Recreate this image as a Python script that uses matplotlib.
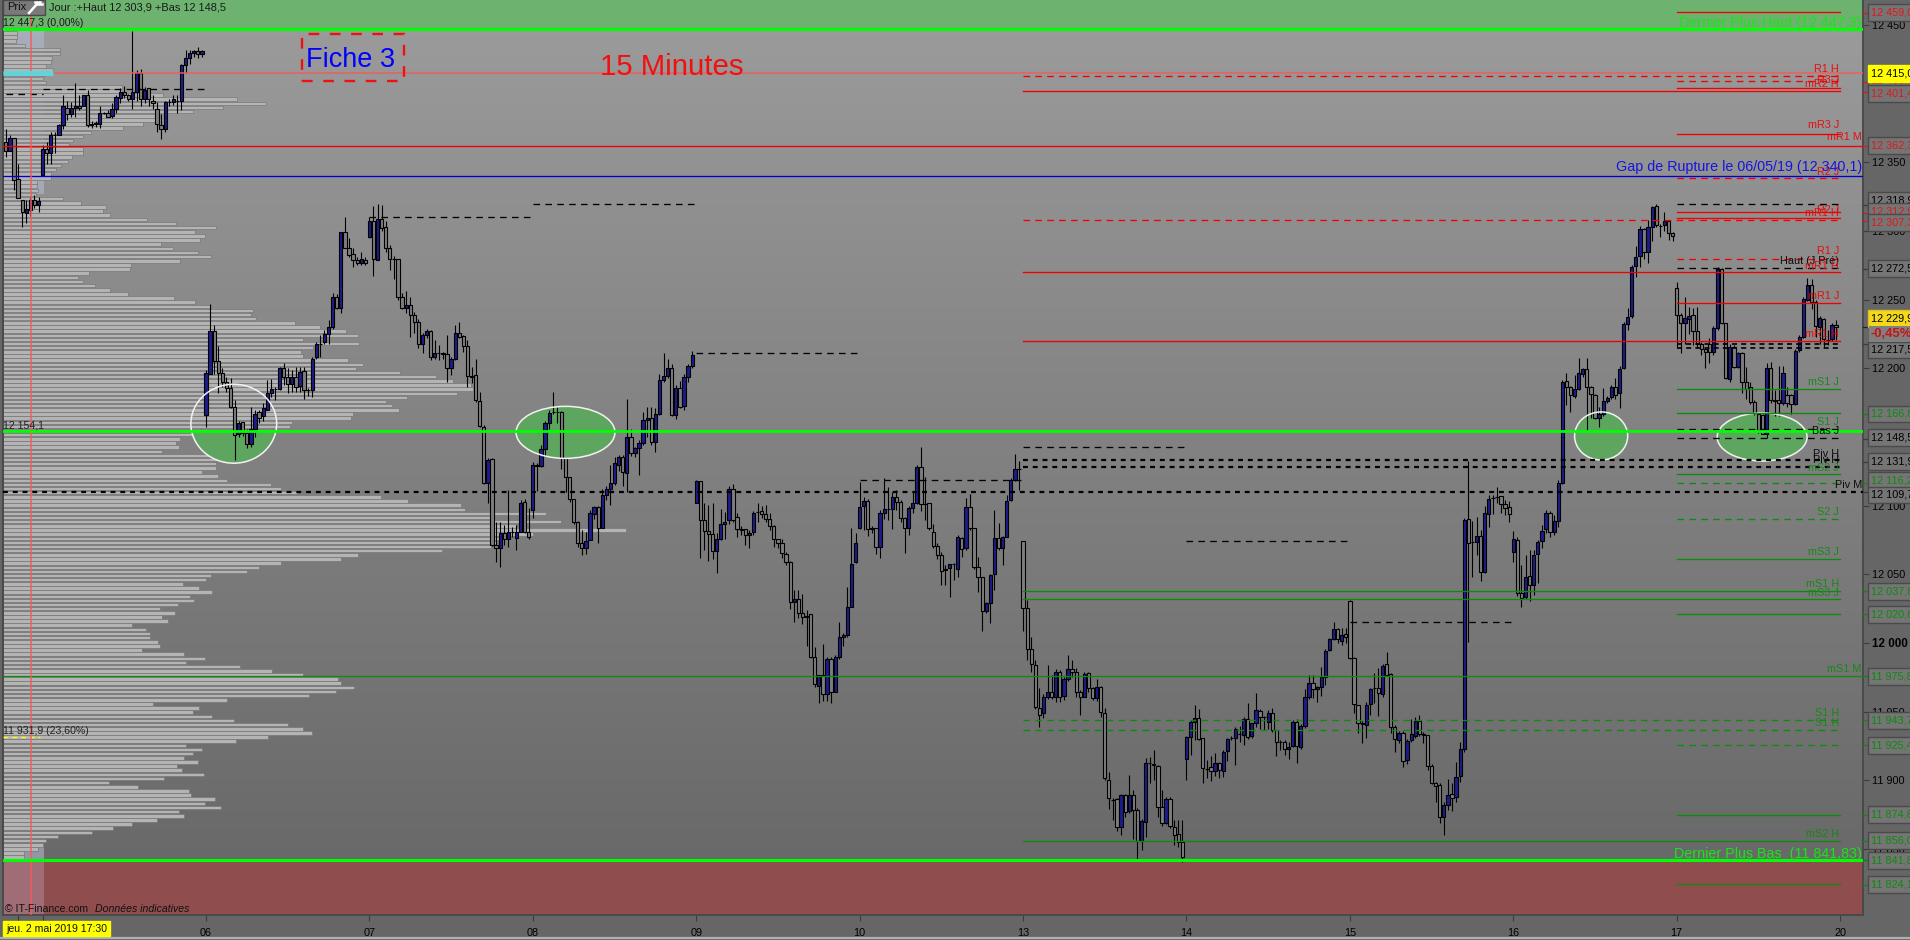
import numpy as np
import matplotlib
matplotlib.use("Agg")
import matplotlib.pyplot as plt
from matplotlib.patches import Ellipse, Rectangle
from matplotlib.lines import Line2D

plt.rcParams['font.family'] = ['Liberation Sans', 'DejaVu Sans']

opens = [
12365,12358,12368,12338,12323,12313,12315,12323,12319,12341,
12360,12357,12370,12370,12377,12390,12385,12390,12391,12391,
12399,12377,12379,12378,12386,12386,12384,12389,12397,12401,
12399,12396,12401,12415,12396,12404,12395,12389,12377,12374,
12394,12394,12395,12395,12421,12426,12430,12431,12429,
12166,12196,12227,12205.6,12197,12190,12186,12171.6,12152,12161,
12153,12144.6,12156,12168,12165,12170,12182,12185,12185,12200.5,
12193.4,12188.6,12193.4,12187,12198,12184,12184,12208,12218,12219.4,
12225,12230,12252,12243.7,12299,12288,12283,12279,12277,12279,
12295.4,12307.5,12279,12309,12302.7,12287.4,12280,12279.4,12251.7,12243.7,
12246,12239,12234,12218,12224,12227.4,12208.5,12211,12211,12210.4,
12200.5,12206.5,12225.5,12223.5,12216.3,12194.4,12195,12176.4,12157.5,12116.2,
12133.7,12071.3,12069.3,12080,12076,12081,12076.6,12081,12103,12081,
12096.8,12130,12129,12141,12160,12168,12168,12168,12134.4,12120.6,
12104.6,12088.3,12073,12069.4,12075,12094.3,12099,12084,12107.7,12112,
12116.2,12130,12135.6,12124,12149.7,12138.6,12141.7,12145.8,12162.4,12163.6,
12146.6,12167,12191.5,12194.6,12200.5,12166,12186,12172.6,12194,12202,
12101.7,12117.7,12089.5,12081.8,12079.3,12067,12075.4,12087,12089.5,12112.4,
12091.5,12082.7,12082.7,12079,12080.5,12095.6,12096.3,12094,12090.3,12085.2,
12075.4,12072.5,12064.8,12059,12029.6,12032.2,12021.5,12018.6,12020.8,11990,
11969,11976.6,11962.5,11988,11964.5,11990,12004.5,12006,12026.4,12058.7,
12083.5,12099.7,12103.2,12082.7,12083.5,12069.6,12094.9,12097.5,12097.5,12106,
12102.4,12091.2,12084,12098,12102,12127.9,12101.2,12101.7,12081,12071,
12064,12053,12054.3,12057.2,12053.6,12076.2,12068.9,12099.2,12083.5,12055,
12047.8,12023,12028.8,12050,12076.7,12069,12077.4,12104,12119,12126.7,
12074,12025.3,11995.4,11983.7,11953,11948.8,11960.4,11964.6,11960.4,11979.1,
11961.6,11973.5,11980.8,11978.9,11964.6,11961,11977.9,11967.5,11959.7,11968.2,
11948.8,11900.2,11886,11886.1,11865.7,11889,11877.6,11889,11878.4,11856,
11869.9,11912.4,11911.6,11910.7,11880.8,11869.2,11886.1,11866.2,11860.6,11855.3,
11915.8,11931.8,11942.2,11945.6,11930.5,11908,11909.4,11907,11912.4,11907,
11921.6,11930.6,11930.6,11933.7,11933.2,11944.4,11932.5,11941.5,11950.7,11945.9,
11942.7,11948.8,11936.6,11928.1,11928.1,11922.6,11925.2,11942.7,11924.5,11939.8,
11960.4,11970.6,11966.3,11967.7,11975,11994.9,12002.7,12010,12001.2,12006.3,
12030.8,11988.8,11954.6,11941.5,11940,11955.4,11967,11967,11962.6,11984.5,
11977.2,11938.6,11929.3,11934.7,11914.5,11929.1,11932,11943,11933.7,11932.8,
11910.4,11897.8,11896.3,11873,11881.8,11890,11887.6,11903.1,11922.5,12090,
12073.7,12073.7,12078.1,12051.4,12093.7,12105.8,12106.3,12106.8,12101,12099.2,
12066,12074.7,12036.1,12033.2,12048.7,12041.9,12064.5,12074,12082.7,12094.4,
12080.5,12088.6,12116.7,12191,12186.2,12180,12185.2,12195.9,12199.3,12186.2,
12180.6,12163.6,12166.5,12176,12178.9,12186.6,12181.8,12200,12232,12238.1,
12274.5,12281.8,12301.2,12284.5,12302.7,12318.2,12304,12304.6,12307,12298.8,
12258.3,12238.9,12232.8,12236.2,12238.6,12227.5,12217.7,12213.9,12218,12211.7,
12229.1,12272.1,12232.8,12192,12215.8,12201.2,12211,12190.3,12186.7,12175.7,
12167,12166,12152,12200,12177,12176.9,12174.5,12180.6,12180.6,12173.8,
12213.4,12223.1,12249.8,12260.7,12248.6,12230.4,12235.9,12221,12221.1,12231.6,
]

closes = [
12358,12368,12337,12324,12314,12316,12323,12319,12322,12360,
12357,12370,12370,12377,12391,12385,12390,12391,12390,12399,
12377,12378,12378,12386,12386,12383,12389,12398,12401,12399,
12396,12401,12415,12396,12403,12396,12393,12378,12374,12394,
12394,12396,12395,12421,12426,12430,12431,12429,12431,
12196.3,12227,12205.6,12197,12190.3,12186,12171.6,12151.7,12160,12153,
12144.6,12156,12167,12163.6,12171,12182,12185,12185,12200,12193.4,
12188.6,12194,12186.6,12197.5,12184,12184,12207,12217.7,12218,12224.7,
12230,12252,12243.7,12299,12288,12282.5,12279,12277,12279.4,12277,
12307.5,12280,12309,12302,12287.4,12280,12279.5,12251.7,12243.7,12246,
12239,12234,12218,12224,12227.4,12208.5,12211.4,12211,12210.4,12200,
12206.5,12225.5,12223,12216.5,12194.4,12194,12177,12158,12116.2,12133,
12071.3,12069.3,12080.3,12076,12081,12081,12081,12102,12081,12077,
12130,12129,12141,12160,12167.7,12168,12168,12134.4,12120.6,12104.6,
12088.3,12073,12069.4,12074.5,12094.8,12099,12084,12107.7,12112.3,12116.2,
12130.8,12135.6,12124.7,12149.7,12138.6,12141.7,12145.8,12162.4,12164,12146.6,
12167,12191.5,12194.6,12200.5,12166,12185.4,12172,12194,12202,12210,
12117.7,12089.5,12081.8,12079.3,12067,12076,12087,12088.3,12112.4,12089.5,
12082.7,12082,12079,12080.3,12094.9,12095.6,12094,12090.3,12085.2,12075.4,
12072.5,12065.2,12059,12029.6,12031.7,12021.5,12018.6,12020,11990,11969.8,
11976.6,11962.5,11988,11964.5,11990,12004.5,12005.7,12026.4,12057.5,12073,
12099.2,12103.6,12082.7,12084,12070,12094.9,12097.5,12097.5,12106.5,12102.4,
12090.7,12084,12098,12102,12128.4,12101.2,12101,12083.5,12071,12064,
12052.6,12054,12057.2,12057.2,12077.4,12068.2,12099.2,12083.5,12055,12047.8,
12023.5,12028.8,12049.5,12076.7,12069,12077.4,12103.6,12118.7,12126.4,12127,
12025.3,11995.4,11984.5,11953.1,11947.8,11960.4,11964.6,11960.4,11979.1,11961,
11973.5,11980.8,11978.9,11964.6,11961,11977.2,11967.5,11959.7,11968.2,11949.5,
11901.4,11886.9,11886,11866.2,11889.5,11877.2,11889.5,11878.4,11856,11870.6,
11912.4,11912.4,11911,11880.3,11868.7,11886.6,11866.7,11860.2,11855.3,11844.4,
11931.3,11942.2,11945.6,11930.3,11908.7,11908,11907,11912.4,11907.5,11920.9,
11929.8,11930.6,11937.6,11933.7,11944.4,11931.8,11941.5,11951.2,11945.9,11945.9,
11948.8,11936.6,11928.1,11928.1,11922.6,11924.5,11942.7,11925.2,11939.8,11960.4,
11970.6,11966.3,11968.2,11975,11994.4,12002.7,12010.5,12002.7,12005.8,12004.1,
11988.8,11955.6,11941.5,11941,11955.1,11966.3,11967,11963.3,11983.5,11976.7,
11938.6,11929.8,11934.7,11913.8,11928.9,11933.5,11943,11933.7,11933,11910.4,
11897.8,11895.9,11873,11881.8,11889,11887.1,11902.2,11923,12089.5,12072.5,
12073.7,12078.1,12051.4,12094.4,12105,12105.8,12106.3,12101,12098.5,12093.7,
12075.9,12036.1,12032.5,12047.8,12042.4,12064.3,12073.7,12081.8,12094.9,12080.5,
12089,12116.2,12190,12186.2,12180.3,12185.2,12196.4,12199.3,12186.2,12181,
12163.6,12166.5,12176,12178.2,12186.6,12180.6,12199.8,12232,12237.6,12274,
12281.3,12301.2,12284.5,12302.7,12317.3,12304.2,12304,12307,12298.8,12296.6,
12238.9,12232.8,12236.4,12238.1,12227.5,12218,12213.9,12212,12211.7,12229.1,
12272.1,12232.8,12192.7,12215.8,12201.2,12211,12190.3,12184.7,12175.7,12167.2,
12155,12152.2,12200,12176.9,12176.2,12174.5,12196.9,12174.5,12173.8,12212.9,
12223.1,12250.3,12260.7,12248.6,12230.9,12236.4,12221.1,12221,12231.6,12229.9,
]

highs = [
12374,12370,12368,12349,12323,12323,12325,12326,12325,12363,
12365,12372,12372,12378,12399,12395,12394,12408,12399,12399,
12403,12380,12380,12391,12387,12388,12393,12399,12404,12406,
12400,12446,12417,12418,12405,12404,12399,12394,12385,12395,
12396,12399,12399,12422,12432,12432,12432,12434,12432,
12199,12247,12231.6,12216,12200,12194,12193,12177,12162,12161,
12156,12172,12170,12170,12175,12191.5,12192,12186.6,12201,12203.6,
12200,12199,12201,12201,12201,12186,12208.5,12219.4,12224,12228,
12235,12254.6,12254,12299,12310,12294.6,12288,12281,12285,12281,
12310,12318,12320,12319,12307,12290,12282,12280,12255,12256.6,
12252,12241,12236,12226,12229,12228,12220.6,12217,12212,12224,
12208.5,12231.6,12233.5,12224,12221,12201,12207,12183,12159,12134.4,
12135,12088,12088,12086,12111.4,12084.6,12086,12104,12105,12098,
12132,12131,12144,12162,12170,12183,12172,12169,12135,12121,
12105,12089,12082,12081,12096.8,12100,12100,12112.5,12114,12130,
12135.6,12137,12137,12178,12156,12143,12148,12168,12172,12172,
12171,12196,12211,12207,12203,12188,12191,12196,12203,12213,
12119,12118,12101.7,12100.5,12101.7,12080,12097.3,12095.6,12114,12115.7,
12094.4,12085,12083,12082,12096,12101.7,12100,12100.5,12094.4,12086,
12076,12076,12066,12060,12038.5,12038.5,12036,12024,12021,11997.3,
11977,11999,11990,11990,11991,12015.5,12007,12041,12084,12080.3,
12117.5,12106.5,12105,12085,12084,12097,12119.9,12113.8,12110,12111.4,
12104,12092,12100,12110,12130,12142.5,12121,12102,12087,12073,
12066,12056.8,12057.2,12058,12079,12077,12105.3,12108.5,12084,12062.8,
12048,12030,12050,12097,12087.6,12078,12108,12120,12138,12132.7,
12074,12031,12004.6,11987.6,11967,11963,11984,11976.7,11980.8,11980,
11975,11991.3,11987.6,11982,11966,11979,11979,11968,11974,11969,
11952.4,11906.3,11887,11887,11890,11890,11903.9,11893,11880,11872,
11916,11916.7,11922,11911,11893,11888,11888,11871,11871,11871,
11932,11944,11954.8,11951.7,11931,11914.8,11917.7,11920,11913,11922,
11931,11932,11939,11939.5,11946.3,11956.5,11942,11963.8,11952,11947,
11951.2,11952.4,11937,11929,11929,11928,11944,11945,11941,11966.3,
11976.7,11976.7,11969,11982.8,11995.5,12004,12015,12011,12010.7,12010.7,
12031,11990,11955,11943,11957,11967,11978.4,11981.6,11985,11993.2,
11978,11940,11936,11936,11930,11944.7,11946.3,11947.6,11935,11933,
11912,11899,11898,11884,11900.7,11897.8,11913.6,11928,12090.7,12132.7,
12089,12091.5,12082.2,12099.7,12107.7,12107.7,12113.3,12107,12104,12103.4,
12081.5,12077,12056.8,12064,12068,12067.7,12075,12085.9,12096.8,12096,
12093.2,12118.7,12191.5,12196.8,12187,12195,12207.3,12200.5,12207.3,12187,
12181,12172,12185.4,12180,12188,12192.7,12202,12234,12243.7,12275,
12289,12304,12302,12308,12318.5,12319.7,12305,12313.6,12308,12299.5,
12263,12240,12252,12245,12243.7,12245,12219,12215,12222,12231,
12274,12273,12233,12218,12217,12212,12212,12201,12190,12177,
12168,12167,12204,12205,12184,12202,12202,12186.7,12181,12214,
12224,12252,12265.6,12264.8,12250,12238,12237,12228,12233,12235,
]

lows = [
12354,12358,12330,12324,12303,12306,12311,12317,12314,12341,
12349,12349,12357,12370,12374,12381,12383,12383,12388,12391,
12376,12375,12376,12375,12385,12383,12382,12386,12393,12397,
12395,12389,12395,12391,12393,12391,12389,12372,12367,12372,
12391,12392,12386,12388,12415,12422,12427,12426,12427,
12157.5,12196,12196,12182,12186.6,12183,12171,12133,12150,12151,
12142,12143,12150,12160,12162,12170,12179,12177,12184,12188,
12182,12183,12183,12183,12178,12180,12179.5,12207,12208,12218,
12218,12229,12243,12240,12288,12281,12273.6,12275,12275,12275,
12295,12267,12279,12300,12285,12272,12265,12250,12243,12240,
12223,12226,12215,12211,12222,12206,12207,12206,12207,12190,
12195,12206,12222,12212,12186.6,12189,12175.7,12157.5,12116,12101.6,
12071,12059,12055.5,12071.3,12070,12077,12067.6,12081,12080,12075.4,
12091.4,12111,12128,12136,12156,12167,12160,12127,12110,12103,
12087,12070,12064,12064.7,12075,12090,12073,12083.5,12104,12100.5,
12115,12125,12114,12110,12136,12135.6,12122,12144,12150,12144,
12139,12166,12190,12193,12165,12163,12171,12170,12190,12200,
12101.7,12061.6,12067.7,12060,12060.9,12050.7,12075,12075.4,12087,12088,
12077.4,12078.6,12071.3,12068.9,12079,12088.3,12091,12088,12082,12070,
12069,12062,12057,12025,12015.5,12017.9,12014,11997.8,11989,11968,
11956,11957.7,11957.7,11956.5,11964,11988,11997.8,12004.5,12026,12058,
12083,12082,12077.9,12080,12065,12061.6,12090,12089.5,12082.7,12097,
12088,12065.7,12078.6,12095,12101,12096,12089.5,12082,12069,12061,
12042,12042,12033.7,12045.8,12047.8,12062.8,12068,12082,12054,12037.3,
12008.9,12022,12014.7,12038.5,12068,12056.7,12077,12103.5,12118,12111.4,
12009,11987.6,11979,11952,11939,11945.5,11959,11959,11957.3,11957.3,
11958.5,11972,11975,11961,11947.6,11961,11964.6,11958.5,11958,11946.3,
11900,11878.9,11871,11863.3,11860,11873.5,11876,11857,11842.4,11849.2,
11858.9,11897.8,11900,11873,11867,11868,11865,11852.9,11851.7,11840.7,
11900.2,11918.4,11929.3,11929,11898.3,11901.4,11899.7,11903,11902,11902.6,
11914.3,11929,11911.1,11928,11925.7,11930,11930.6,11939,11937.1,11936.6,
11937.1,11935,11917.7,11922,11918.4,11915.5,11924,11912.8,11923,11938,
11959,11960,11957.3,11961.4,11969.4,11994,12002,12000,11998.6,12000,
11988,11948.8,11934.2,11927,11930.6,11947.6,11956,11946.8,11961,11976,
11934.2,11920.9,11927,11910,11911.9,11928,11931,11932,11927.4,11907.5,
11897,11884.4,11868.7,11860.2,11878.4,11877.9,11884.4,11899,11920.8,12000.9,
12048.3,12064,12045.3,12051,12084.7,12094,12101.7,12094.4,12093.2,12088.3,
12059.2,12034.2,12026.4,12031.7,12030.8,12034.9,12043.9,12068.9,12080.3,12077.4,
12078.6,12084.2,12115.7,12173.3,12168.4,12178.5,12184,12194,12155,12163.6,
12163,12157.5,12165.5,12175,12178,12178,12170.9,12199.5,12228,12236.6,
12266.3,12273.6,12280,12277,12293,12303,12296,12300,12293.5,12293,
12214.6,12211,12218,12225,12217,12214.6,12209.7,12200,12203.7,12210,
12228,12232,12192,12190,12200,12200,12182,12178,12174,12166,
12153,12152,12149,12175,12165,12165,12173,12172,12167,12173,
12212,12222,12249,12243,12223,12218,12215.8,12217,12220,12220.7,
]

# volume profile, top to bottom
profile_vol = [
14,14,13,22,57,57,49,48,43,50,42,40,43,119,119,160,234,263,220,190,157,153,140,120,88,80,70,66,80,80,
69,65,58,53,48,48,34,34,35,33,60,78,103,100,107,144,173,213,
192,202,197,158,170,195,208,177,128,127,86,75,80,92,107,125,171,192,208,250,248,253,292,
317,343,355,300,356,310,298,300,345,360,353,397,433,450,468,470,454,404,383,389,396,350,348,289,287,270,263,
177,173,176,159,210,235,213,213,199,215,224,268,278,294,
378,405,458,462,543,490,558,513,623,530,507,493,488,439,355,338,
278,256,244,208,203,180,196,209,187,191,175,157,172,159,165,129,143,147,147,155,157,139,181,202,183,237,269,300,
335,338,351,333,306,224,150,196,190,209,231,285,300,309,265,233,183,199,190,181,195,174,179,201,161,106,135,186,188,
212,202,218,176,181,154,129,110,89,55,43,40,35,21,21,
]

day_ticks = [49, 89, 129, 169, 209, 249, 289, 329, 369, 409, 449]
day_labels = ['06', '07', '08', '09', '10', '13', '14', '15', '16', '17', '20']
price_ticks = [12450, 12350, 12300, 12250, 12200, 12100, 12050, 12000, 11950, 11900, 11850]
price_labels = ['12 450', '12 350', '12 300', '12 250', '12 200', '12 100', '12 050', '12 000', '11 950', '11 900', '11 850']

RED, GREEN, BLACK, BLUE = '#f00000', '#0c8c0c', '#000000', '#0000e0'
WEEK, DAY, ALL = 249, 409, None
# price, colour, style ('-' solid, '--' dashed, '=' thick dashed), start candle
level_prices = [12459.6,12412.7,12409,12404,12402,12371,12362.3,12338.4,12319.5,12313.6,12309.3,12307.8,
                12280,12272.9,12270,12247.4,12219.7,12217.7,12215,12184.7,12167.2,12155.6,12149,
                12133,12128.4,12122.8,12116.3,12110,12090,12061,12037.6,12031.8,12020.9,11975.7,
                11943.6,11936.4,11925.4,11874.4,11855.5,11824.2]
level_colors = [RED,RED,RED,RED,RED,RED,RED,RED,BLACK,RED,RED,RED,
                RED,BLACK,RED,RED,RED,BLACK,BLACK,GREEN,GREEN,BLACK,BLACK,
                BLACK,BLACK,GREEN,GREEN,BLACK,GREEN,GREEN,GREEN,GREEN,GREEN,GREEN,
                GREEN,GREEN,GREEN,GREEN,GREEN,GREEN]
level_styles = ['-','--','--','-','-','-','-','--','--','-','-','--',
                '--','--','-','-','-','~','~','-','-','--','--',
                '=','=','-','--','=','--','-','-','-','-','-',
                '--','--','--','-','-','-']
level_starts = [DAY,WEEK,DAY,DAY,WEEK,DAY,ALL,DAY,DAY,DAY,DAY,WEEK,
                DAY,DAY,WEEK,DAY,WEEK,DAY,DAY,DAY,DAY,DAY,DAY,
                WEEK,WEEK,DAY,DAY,ALL,DAY,DAY,WEEK,WEEK,DAY,ALL,
                WEEK,WEEK,DAY,DAY,WEEK,DAY]

# short black dashed levels left by earlier sessions
old_prices = [12403.6, 12400, 12310, 12320, 12211, 12119, 12142.5, 12074, 12015]
old_starts = [9, 0, 89, 129, 169, 209, 249, 289, 329]
old_ends   = [49, 9, 129, 169, 209, 249, 289, 329, 369]

label_texts = ['R1 H','R3 J','mR2 H','mR3 J','R2 J','R2 J','mR1 H','R1 J','Haut (J Pré)','mR1 H','mR1 J','mR1 H',
               'mS1 J','S1 J','Bas J','Piv H','Piv H','mS2 J','S2 J','mS3 J','mS1 H','mS3 J','S1 H','S1 H','mS2 H']
label_prices = [12418,12410,12407,12377,12343,12315,12313,12285.5,12278,12274.6,12252.7,12225,
                12190,12161,12154.4,12137.6,12133,12127.5,12095.4,12066,12043,12036.4,11949,11941.7,11861]
label_colors = [RED,RED,RED,RED,RED,RED,RED,RED,BLACK,RED,RED,RED,
                GREEN,GREEN,BLACK,BLACK,BLACK,GREEN,GREEN,GREEN,GREEN,GREEN,GREEN,GREEN,GREEN]

monthly_texts = ['mR1 M', 'Piv M', 'mS1 M']
monthly_prices = [12368.5, 12115, 11981]
monthly_colors = [RED, BLACK, GREEN]

box_texts = ['12 459,0','12 408,9','12 401,4','12 362,3','12 318,9','12 312,9','12 307,3','12 272,5','12 217,5',
             '12 166,8','12 148,5','12 131,9','12 116,2','12 109,7','12 037,8','12 020,8','11 975,8',
             '11 943,7','11 925,4','11 874,8','11 856,0','11 841,8','11 824,1']
box_ticks = [12459.0,12408.9,12401.4,12362.3,12318.9,12312.9,12307.3,12272.5,12217.5,
              12166.8,12148.5,12131.9,12116.2,12109.7,12037.8,12020.8,11975.8,
              11943.7,11925.4,11874.8,11856.0,11841.8,11824.1]
# where each box sits: the chart nudges boxes apart when they would collide
box_prices = [12459.0,12410,12400.5,12362.3,12322,12314,12306,12272.5,12213.4,
              12166.8,12149.5,12131.9,12118.7,12107.8,12037.8,12020.8,11975.8,
              11943.7,11925.4,11874.8,11856.0,11841.8,11824.1]
box_colors = ['#e01818','#e01818','#e01818','#e01818','#000000','#e01818','#e01818','#000000','#000000',
              '#0c8c0c','#000000','#000000','#0c8c0c','#000000','#0c8c0c','#0c8c0c','#0c8c0c',
              '#0c8c0c','#0c8c0c','#0c8c0c','#0c8c0c','#0c8c0c','#0c8c0c']

last_high, last_low = 12447.3, 11841.83
zone_line = 12154.6
gap_level = 12340.1
marker_level = 12415.0
last_price = 12229.9
last_price_box = 12236
change_box = 12225
# ellipses: candle, price, width in candles, height in points
ell_x = [55.8, 137, 390.5, 429.9]
ell_y = [12159.7, 12153.4, 12150.8, 12150]
ell_w = [21, 24.2, 13, 22]
ell_h = [57.5, 37.9, 35, 35]

W, H = 1910, 940
fig = plt.figure(figsize=(W / 100, H / 100), dpi=100, facecolor='#666666')
rect = [3 / W, 1 - 915 / H, 1860 / W, 915 / H]
ylim = (11801.9, 12468.3)
xlim = (-0.69, 454.6)

# background layer
bg = fig.add_axes(rect, zorder=1)
bg.set_xlim(0, 1860)
bg.set_ylim(*ylim)
bg.axis('off')
grad = np.linspace(0, 1, 256).reshape(-1, 1)
bg.imshow(grad, extent=(0, 1860, ylim[0], ylim[1]), aspect='auto', origin='upper',
          cmap=matplotlib.colors.LinearSegmentedColormap.from_list('g', ['#9c9c9c', '#666666']), zorder=0)
bg.axhspan(last_high, ylim[1], color='#6db36f', lw=0, zorder=1)
bg.axhspan(ylim[0], last_low, color='#904d4d', lw=0, zorder=1)
bg.add_patch(Rectangle((0, 12327), 41, last_high - 12327, fc='#b4bcd8', alpha=0.55, lw=0, zorder=1.5))
bg.add_patch(Rectangle((0, last_low), 41, 11853 - last_low, fc='#b4bcd8', alpha=0.55, lw=0, zorder=1.5))
bg.add_patch(Rectangle((0, ylim[0]), 41, last_low - ylim[0], fc='#c0a8c0', alpha=0.35, lw=0, zorder=1.5))
levels = np.linspace(12444.3, 11844, len(profile_vol))
bg.barh(levels, profile_vol, height=2.55, left=0, color='#b4b4b4', edgecolor='#737373', linewidth=0.45, zorder=2)

# main layer
ax = fig.add_axes(rect, zorder=2)
ax.patch.set_alpha(0)
ax.set_xlim(*xlim)
ax.set_ylim(*ylim)

# ellipses: the first one is filled below the green line only
for k, (ex, ey, ew, eh) in enumerate(zip(ell_x, ell_y, ell_w, ell_h)):
    fill = Ellipse((ex, ey), ew, eh, fc='#5ea65f', ec='none', zorder=2)
    ax.add_patch(fill)
    if k == 0:
        clip = Rectangle((xlim[0], ylim[0]), xlim[1] - xlim[0], zone_line - ylim[0], transform=ax.transData)
        fill.set_clip_path(clip)
    ax.add_patch(Ellipse((ex, ey), ew, eh, fc='none', ec='#f2f2f2', lw=1.1, zorder=3.5))

# candles
xs = np.arange(len(opens))
o, c, hi, lo = map(np.array, (opens, closes, highs, lows))
up = c >= o
ax.vlines(xs, lo, hi, colors='k', lw=0.8, zorder=3)
ax.bar(xs, np.abs(c - o), bottom=np.minimum(o, c), width=0.8,
       color=np.where(up, '#1c1c8c', '#7e7e7e'), edgecolor='k', linewidth=0.8, zorder=3.2)

# levels
def draw_level(p, col, style, start, end=None):
    x0 = xlim[0] if start is None else start
    if start is None:
        x1 = xlim[1]
    else:
        x1 = 449 if end is None else end
    if style == '-':
        ax.plot([x0, x1], [p, p], color=col, lw=0.95, zorder=4)
    elif style == '--':
        ax.plot([x0, x1], [p, p], color=col, lw=0.95, dashes=(5, 4), zorder=4)
    elif style == '~':
        ax.plot([x0, x1], [p, p], color=col, lw=1.2, dashes=(3, 2.5), zorder=4)
    else:
        ax.plot([x0, x1], [p, p], color=col, lw=1.6, dashes=(2.2, 2.2), zorder=4)

for p, col, st, s in zip(level_prices, level_colors, level_styles, level_starts):
    draw_level(p, col, st, s)
for p, s, e in zip(old_prices, old_starts, old_ends):
    draw_level(p, BLACK, '--', s, e)
draw_level(gap_level, '#0000d0', '-', None)
ax.plot(xlim, [last_high] * 2, color='#00ff00', lw=2.2, zorder=4.2)
ax.plot(xlim, [last_low] * 2, color='#00ff00', lw=2.2, zorder=4.2)
ax.plot(xlim, [zone_line] * 2, color='#00ff00', lw=2.0, zorder=4.2)
ax.plot(xlim, [marker_level] * 2, color='#f25c5c', lw=1.3, alpha=0.8, zorder=4.1)
ax.axvline(6.2, color='#f25c5c', lw=1.3, alpha=0.8, zorder=4.1)
ax.plot([xlim[0], 11.5], [marker_level] * 2, color='#5fd5da', lw=3.6, solid_capstyle='butt', zorder=4.15)
ax.plot([xlim[0], 8.3], [11931.9] * 2, color='#ffff00', lw=0.9, dashes=(4, 3), zorder=4)

# labels near levels
lab_fs = 7.8
for t, p, col in zip(label_texts, label_prices, label_colors):
    ax.text(448.7, p, t, color=col, fontsize=lab_fs, ha='right', va='center', alpha=0.9, zorder=5)
for t, p, col in zip(monthly_texts, monthly_prices, monthly_colors):
    ax.text(454.3, p, t, color=col, fontsize=lab_fs, ha='right', va='center', alpha=0.9, zorder=5)
ax.text(454.3, 12451.5, 'Dernier Plus Haut (12 447,3)', color='#16e616', fontsize=10.3, ha='right', va='center', zorder=5)
ax.text(454.3, 11846, 'Dernier Plus Bas  (11 841,83)', color='#16e616', fontsize=10.3, ha='right', va='center', zorder=5)
ax.text(454.3, 12346.5, 'Gap de Rupture le 06/05/19 (12 340,1)', color='#1414e0', fontsize=10.3, ha='right', va='center', zorder=5)

# axes
ax.yaxis.tick_right()
ax.set_yticks(price_ticks, price_labels, fontsize=7.8, color='k')
for t, p in zip(ax.get_yticklabels(), price_ticks):
    if p == 12000:
        t.set_fontweight('bold')
        t.set_fontsize(8.4)
ax.tick_params(axis='y', length=4, width=0.8, color='#3c3c3c', pad=2.5)
minor_x = [3, 9]
ax.set_xticks(day_ticks + minor_x, day_labels + ['', ''], fontsize=7.8, color='k')
ax.tick_params(axis='x', length=4, width=0.8, color='#3c3c3c', pad=5)
for s in ('top',):
    ax.spines[s].set_visible(False)
for s in ('left', 'right', 'bottom'):
    ax.spines[s].set_color('#4a4a4a')
    ax.spines[s].set_linewidth(1.4)

# price boxes on the right
tr = ax.get_yaxis_transform()
def box(text, p, fc, tc, weight='normal', fs=7.8, ec='#4a4a4a'):
    ax.text(1.0043, p, text, color=tc, fontsize=fs, fontweight=weight, ha='left', va='center', transform=tr,
            clip_on=False, zorder=6,
            bbox=dict(boxstyle='square,pad=0.32', fc=fc, ec=ec, lw=1.0))
for t, p, tick, col in zip(box_texts, box_prices, box_ticks, box_colors):
    box(t, p, '#757575', col)
    ax.plot([1.0, 1.0043], [tick, tick], color=col if col != '#000000' else '#3c3c3c', lw=0.9, transform=tr,
            clip_on=False, zorder=5)
box('12 415,0', marker_level, '#ffff00', '#000000', ec='#ffff00')
box('12 229,9', last_price_box, '#f4d81c', '#000000', ec='#d8c020')
ax.plot([1.0, 1.0043], [last_price] * 2, color='#222222', lw=0.9, transform=tr, clip_on=False, zorder=5)
ax.text(1.0043, change_box, '-0,45%', color='#c81414', fontsize=9.4, fontweight='bold', ha='left', va='center',
        transform=tr, clip_on=False, zorder=7,
        bbox=dict(boxstyle='square,pad=0.18', fc='#808080', ec='none'))

# header and overlays, placed in pixels
def px(x, y):
    return x / W, 1 - y / H

fig.patches.append(Rectangle(px(3, 15), 42 / W, 15 / H, transform=fig.transFigure, fc='#7a7a7a', ec='#4a4a4a', lw=1, zorder=10))
fig.text(*px(7, 7.5), 'Prix', fontsize=8, color='#111111', va='center', zorder=11)
for seg in ([(29, 13), (37, 4)], [(35, 2), (40, 2)], [(37, 4), (42, 4)]):
    fig.add_artist(Line2D([seg[0][0] / W, seg[1][0] / W], [1 - seg[0][1] / H, 1 - seg[1][1] / H],
                          color='white', lw=1.8, zorder=11))
fig.text(*px(49, 7), 'Jour :+Haut 12 303,9 +Bas 12 148,5', fontsize=7.9, color='#1a1a1a', va='center', zorder=11)
fig.text(*px(3, 23), '12 447,3 (0,00%)', fontsize=7.6, color='#1a1a1a', va='center', zorder=11)
fig.text(*px(3, 426), '12 154,1', fontsize=7.6, color='#222222', va='center', zorder=11)
fig.text(*px(3, 731), '11 931,9 (23,60%)', fontsize=7.6, color='#222222', va='center', zorder=11)
fig.text(*px(5, 909), '© IT-Finance.com', fontsize=7.6, color='#111111', va='center', zorder=11)
fig.text(*px(95, 909), 'Données indicatives', fontsize=7.6, style='italic', color='#111111', va='center', zorder=11)
fig.text(*px(6, 928.5), 'jeu. 2 mai 2019 17:30', fontsize=7.6, color='#111111', va='center', zorder=11,
         bbox=dict(boxstyle='square,pad=0.25', fc='#ffff00', ec='#ffff00'))
fig.text(*px(306, 60), 'Fiche 3', fontsize=19.5, color='#0000ff', va='center', zorder=11)
fig.text(*px(672, 67), '15 Minutes', fontsize=21.2, color='#f01010', ha='center', va='center', zorder=11)
fig.add_artist(Rectangle(px(302, 81), 102 / W, 47 / H, transform=fig.transFigure, fc='none', ec='#f01010',
                         lw=1.7, ls=(0, (4.5, 4.5)), zorder=11))
fig.add_artist(Line2D([0, 1], [1 - 937.5 / H] * 2, color='#b0b0b0', lw=1.6, zorder=11))

fig.savefig('out.png', dpi=100, facecolor=fig.get_facecolor())
